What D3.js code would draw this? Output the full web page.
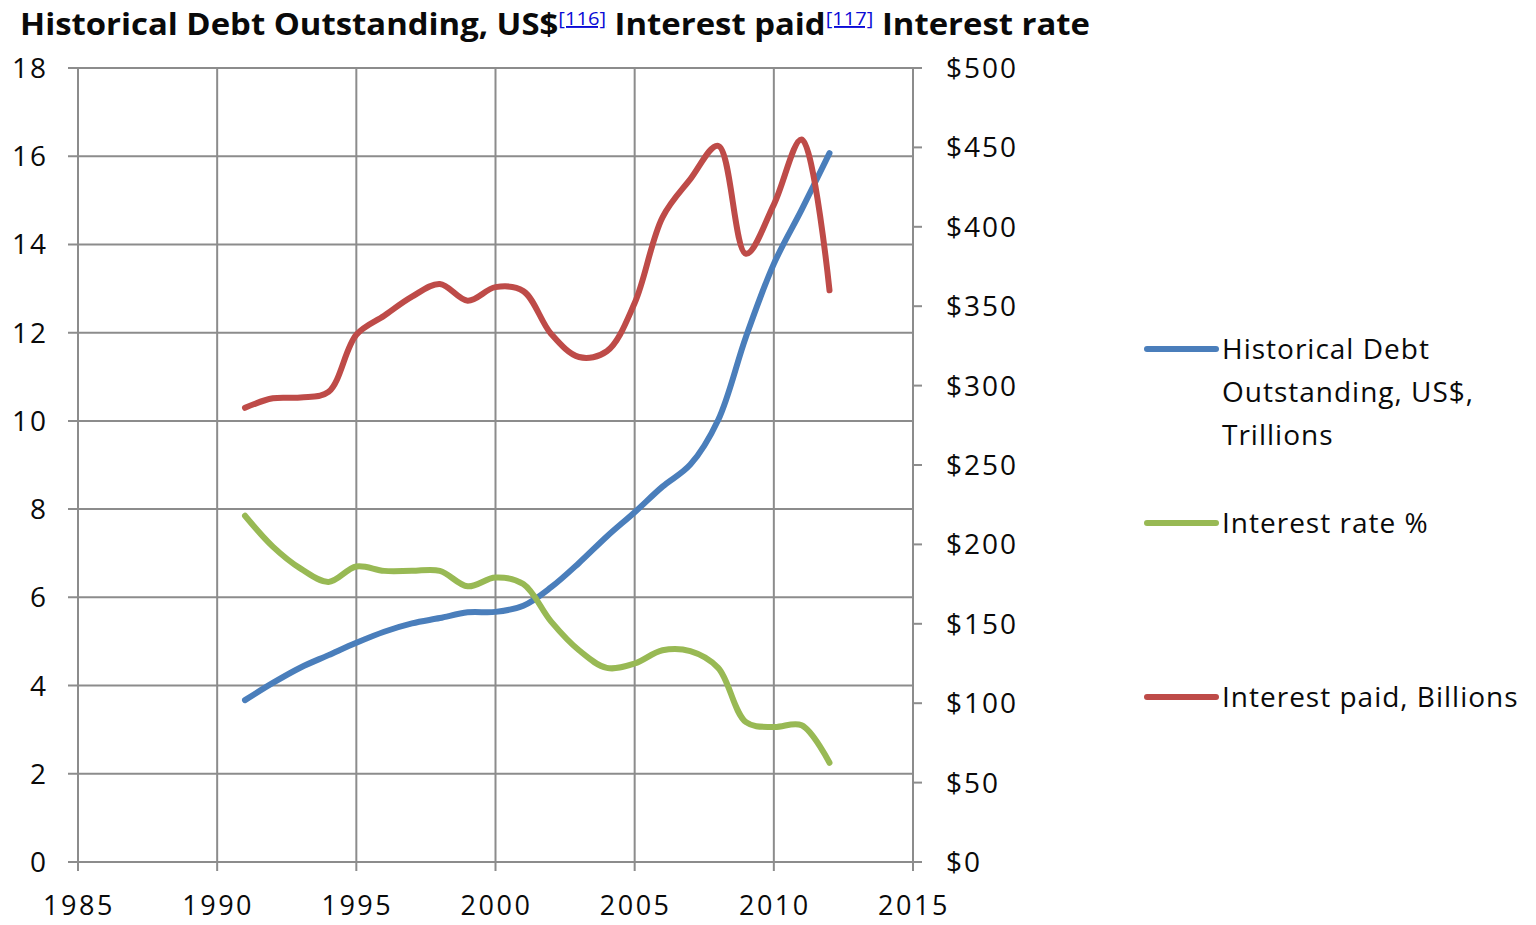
<!DOCTYPE html>
<html>
<head>
<meta charset="utf-8">
<script src="https://cdn.jsdelivr.net/npm/d3@7.9.0/dist/d3.min.js"></script>
<style>
  body { margin: 0; background: #fff; }
  svg text { font-family: "Open Sans", "Noto Sans", sans-serif; fill: #0a0a0a; }
  .tick-label { font-size: 28px; letter-spacing: 2px; }
  .year-label { font-size: 27px; letter-spacing: 2.5px; }
  .legend-label { font-size: 28px; letter-spacing: 1px; }
</style>
</head>
<body>
<svg id="chart" width="1536" height="925"></svg>
<script>
// years shared by all three series
const years = [1991, 1992, 1993, 1994, 1995, 1996, 1997, 1998, 1999, 2000, 2001,
  2002, 2003, 2004, 2005, 2006, 2007, 2008, 2009, 2010, 2011, 2012];

// debt outstanding, trillions US$ (left axis)
const debt = [3.67, 4.06, 4.41, 4.69, 4.97, 5.22, 5.41, 5.53, 5.66, 5.67, 5.81,
  6.23, 6.78, 7.38, 7.93, 8.51, 9.01, 10.02, 11.91, 13.56, 14.79, 16.07];

// interest rate % (left axis)
const rate = [7.85, 7.15, 6.65, 6.35, 6.7, 6.6, 6.6, 6.6, 6.25, 6.45, 6.3,
  5.45, 4.8, 4.4, 4.5, 4.8, 4.78, 4.4, 3.17, 3.06, 3.1, 2.25];

// interest paid, billions US$ (right axis)
const paid = [286, 292, 292.5, 296, 332, 344, 356, 364, 353.5, 362, 359.5,
  332.5, 318, 321.6, 352, 406, 430, 451, 383, 414, 455, 360];

const xTicks = [1985, 1990, 1995, 2000, 2005, 2010, 2015];
const leftTicks = [0, 2, 4, 6, 8, 10, 12, 14, 16, 18];
const rightTicks = [0, 50, 100, 150, 200, 250, 300, 350, 400, 450, 500];

const series = [
  { name: ['Historical Debt', 'Outstanding, US$,', 'Trillions'], values: debt, axis: 'left', color: '#4a7ebb' },
  { name: ['Interest rate  %'], values: rate, axis: 'left', color: '#98b954' },
  { name: ['Interest paid,  Billions'], values: paid, axis: 'right', color: '#be4b48' },
];

const svg = d3.select('#chart');
const area = { left: 78, right: 913, top: 68, bottom: 862 };

const x = d3.scaleLinear().domain([1985, 2015]).range([area.left, area.right]);
const yL = d3.scaleLinear().domain([0, 18]).range([area.bottom, area.top]);
const yR = d3.scaleLinear().domain([0, 500]).range([area.bottom, area.top]);

const grid = '#8c8c8c';

// gridlines (horizontal ones run out past the left axis as its ticks)
svg.append('g')
  .selectAll('line')
  .data(leftTicks)
  .join('line')
  .attr('x1', area.left - 10).attr('x2', area.right)
  .attr('y1', (d) => yL(d)).attr('y2', (d) => yL(d))
  .attr('stroke', grid).attr('stroke-width', 2);

svg.append('g')
  .selectAll('line')
  .data(xTicks)
  .join('line')
  .attr('x1', (d) => x(d)).attr('x2', (d) => x(d))
  .attr('y1', area.top).attr('y2', area.bottom + 9)
  .attr('stroke', grid).attr('stroke-width', 2);

// right axis ticks
svg.append('g')
  .selectAll('line')
  .data(rightTicks)
  .join('line')
  .attr('x1', area.right).attr('x2', area.right + 9)
  .attr('y1', (d) => yR(d)).attr('y2', (d) => yR(d))
  .attr('stroke', grid).attr('stroke-width', 2);

// tick labels
svg.append('g')
  .selectAll('text')
  .data(leftTicks)
  .join('text')
  .attr('class', 'tick-label')
  .attr('x', 48).attr('y', (d) => yL(d) + 10)
  .attr('text-anchor', 'end')
  .text((d) => d);

svg.append('g')
  .selectAll('text')
  .data(rightTicks)
  .join('text')
  .attr('class', 'tick-label')
  .attr('x', 946).attr('y', (d) => yR(d) + 10)
  .text((d) => '$' + d);

svg.append('g')
  .selectAll('text')
  .data(xTicks)
  .join('text')
  .attr('class', 'year-label')
  .attr('x', (d) => x(d) + 1).attr('y', 915)
  .attr('text-anchor', 'middle')
  .text((d) => d);

// lines
series.forEach((s) => {
  const y = s.axis === 'left' ? yL : yR;
  const line = d3.line()
    .x((d, i) => x(years[i]))
    .y((d) => y(d))
    .curve(d3.curveCatmullRom.alpha(0.5));
  svg.append('path')
    .datum(s.values)
    .attr('d', line)
    .attr('fill', 'none')
    .attr('stroke', s.color)
    .attr('stroke-width', 6)
    .attr('stroke-linecap', 'round')
    .attr('stroke-linejoin', 'round');
});

// legend
const legendY = [349, 523, 697];
series.forEach((s, i) => {
  const g = svg.append('g').attr('transform', `translate(0, ${legendY[i]})`);
  g.append('line')
    .attr('x1', 1147).attr('x2', 1216)
    .attr('stroke', s.color).attr('stroke-width', 6)
    .attr('stroke-linecap', 'round');
  s.name.forEach((t, j) => {
    g.append('text')
      .attr('class', 'legend-label')
      .attr('x', 1222).attr('y', 10 + j * 43)
      .text(t);
  });
});

// title with reference marks
const title = svg.append('text')
  .attr('x', 20).attr('y', 35)
  .style('font-size', '31px')
  .style('font-weight', 'bold')
  .attr('textLength', 1070)
  .attr('lengthAdjust', 'spacingAndGlyphs');
title.append('tspan').text('Historical Debt Outstanding, US$');
title.append('tspan').attr('dy', -10).style('font-size', '19px').style('font-weight', 'normal')
  .style('fill', '#0b0bd6').style('text-decoration', 'underline').text('[116]');
title.append('tspan').attr('dy', 10).text(' Interest paid');
title.append('tspan').attr('dy', -10).style('font-size', '19px').style('font-weight', 'normal')
  .style('fill', '#0b0bd6').style('text-decoration', 'underline').text('[117]');
title.append('tspan').attr('dy', 10).text(' Interest rate');
</script>
</body>
</html>
